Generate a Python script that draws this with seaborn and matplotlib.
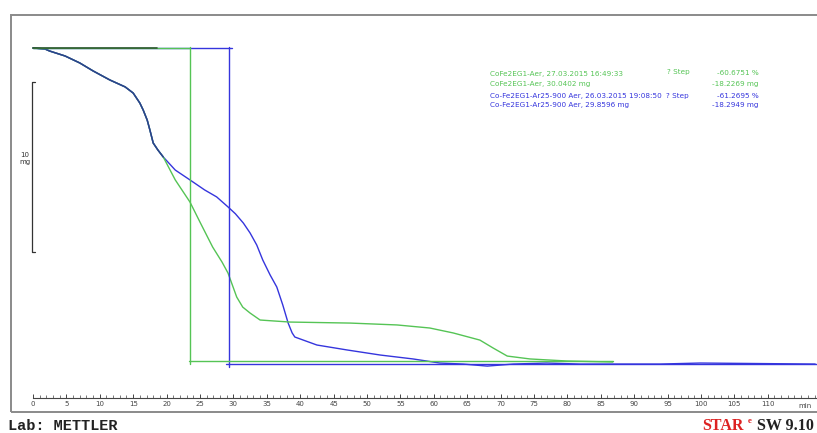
import numpy as np
import pandas as pd
import matplotlib
matplotlib.use("Agg")
import matplotlib.pyplot as plt
from matplotlib.patches import Rectangle
import seaborn as sns

# shared start of both TGA curves (time in min, weight change in mg)
t_common = [0.0, 1.8, 2.5, 4.8, 7.0, 9.0, 11.5, 13.8, 15.0, 16.0, 16.5, 17.1, 17.5, 18.0, 18.7, 19.5]
m_common = [0.0, -0.06, -0.18, -0.47, -0.88, -1.35, -1.88, -2.29, -2.65, -3.24, -3.65, -4.24, -4.82, -5.59, -6.0, -6.41]

# CoFe2EG1-Aer (green)
t_green = [21.3, 23.5, 25.0, 26.9, 28.3, 29.2, 30.5, 31.4, 32.5, 34.0, 36.2, 38.5, 47.5, 54.5,
           59.4, 62.9, 66.9, 68.9, 71.0, 74.4, 79.9, 86.8]
m_green = [-7.76, -9.06, -10.24, -11.71, -12.59, -13.24, -14.65, -15.24, -15.59, -16.0, -16.06, -16.12,
           -16.18, -16.29, -16.47, -16.76, -17.18, -17.65, -18.12, -18.29, -18.41, -18.47]

# Co-Fe2EG1-Ar25-900 Aer (blue)
t_blue = [21.3, 23.5, 25.7, 27.5, 29.2, 30.3, 31.5, 32.5, 33.5, 34.4, 35.5, 36.5, 37.4, 38.2, 38.8, 39.2,
          42.5, 47.0, 52.0, 56.9, 60.9, 64.4, 68.0, 71.9, 76.9, 81.9, 93.9, 99.9, 117.1]
m_blue = [-7.18, -7.76, -8.35, -8.76, -9.35, -9.75, -10.3, -10.88, -11.59, -12.47, -13.35, -14.06, -15.12,
          -16.18, -16.76, -17.0, -17.47, -17.76, -18.06, -18.29, -18.53, -18.59, -18.71, -18.59,
          -18.53, -18.59, -18.59, -18.53, -18.59]

# step evaluation lines: [green, blue]
step_x = [23.5, 29.3]
step_top = [0.0, 0.0]
step_bottom = [-18.41, -18.59]
step_top_end = [23.5, 29.8]
step_bottom_range = [(23.3, 86.8), (28.9, 117.3)]
step_v_range = [(0.06, -18.6), (0.06, -18.76)]

legend_lines = [
    ["CoFe2EG1-Aer, 27.03.2015 16:49:33", "CoFe2EG1-Aer, 30.0402 mg"],
    ["Co-Fe2EG1-Ar25-900 Aer, 26.03.2015 19:08:50", "Co-Fe2EG1-Ar25-900 Aer, 29.8596 mg"],
]
step_pct = ["-60.6751 %", "-61.2695 %"]
step_mg = ["-18.2269 mg", "-18.2949 mg"]

xticks = list(range(0, 115, 5))

green = "#55c455"
blue = "#3535dd"

sns.set_style("white")
plt.rcParams['font.family'] = ['DejaVu Sans']

fig = plt.figure(figsize=(8.17, 4.33), dpi=100)
ax = fig.add_axes([11 / 817, 21 / 433, 806 / 817, 397 / 433])
ax.set_xlim(-3.29, 117.37)
ax.set_ylim(-21.41, 1.94)

green_df = pd.DataFrame({"t": t_common + t_green, "m": m_common + m_green})
blue_df = pd.DataFrame({"t": t_common + t_blue, "m": m_common + m_blue})
sns.lineplot(data=blue_df, x="t", y="m", ax=ax, color=blue, lw=1.0, sort=False)
sns.lineplot(data=green_df, x="t", y="m", ax=ax, color=green, lw=1.0, sort=False)
# the common part looks navy where both curves overlap
sns.lineplot(x=t_common, y=m_common, ax=ax, color="#2a3f8f", lw=1.1, sort=False)

# step lines (blue first, green on top)
for i, col in [(1, blue), (0, green)]:
    ax.plot([0, step_top_end[i]], [step_top[i], step_top[i]], color=col, lw=1.0)
    ax.plot([step_x[i], step_x[i]], list(step_v_range[i]), color=col, lw=1.0)
    ax.plot(list(step_bottom_range[i]), [step_bottom[i], step_bottom[i]], color=col, lw=1.0)
ax.plot([0, 18.5], [0, 0], color="#2f5a2f", lw=1.2)

# legend block
y_rows = [-1.53, -2.12, -2.82, -3.35]
ax.text(68.4, y_rows[0], legend_lines[0][0], color=green, fontsize=5.2, va="center")
ax.text(68.4, y_rows[1], legend_lines[0][1], color=green, fontsize=5.2, va="center")
ax.text(68.4, y_rows[2], legend_lines[1][0], color=blue, fontsize=5.2, va="center")
ax.text(68.4, y_rows[3], legend_lines[1][1], color=blue, fontsize=5.2, va="center")
ax.text(94.9, y_rows[0] + 0.1, "? Step", color=green, fontsize=5.2, va="center")
ax.text(94.8, y_rows[2], "? Step", color=blue, fontsize=5.2, va="center")
ax.text(108.6, y_rows[0] + 0.05, step_pct[0], color=green, fontsize=5.2, va="center", ha="right")
ax.text(108.6, y_rows[1], step_mg[0], color=green, fontsize=5.2, va="center", ha="right")
ax.text(108.6, y_rows[2], step_pct[1], color=blue, fontsize=5.2, va="center", ha="right")
ax.text(108.6, y_rows[3], step_mg[1], color=blue, fontsize=5.2, va="center", ha="right")

# 10 mg scale bar
ax.plot([0.3, -0.15, -0.15, 0.3], [-2.0, -2.0, -12.0, -12.0], color="#333333", lw=0.9)
ax.text(-1.2, -6.5, "10\nmg", fontsize=5, color="#333333", ha="center", va="center", linespacing=1.3)

# x ruler
for s in ["left", "right", "top"]:
    ax.spines[s].set_visible(False)
ax.spines["bottom"].set_position(("data", -20.59))
ax.spines["bottom"].set_bounds(0, 117.3)
ax.spines["bottom"].set_color("#444444")
ax.spines["bottom"].set_linewidth(0.8)
ax.set_xticks(xticks)
ax.set_xticks(np.arange(0, 118, 1), minor=True)
ax.tick_params(axis="x", which="major", direction="in", length=3, width=0.7, colors="#444444",
               labelsize=5, pad=2, bottom=True)
ax.tick_params(axis="x", which="minor", direction="in", length=2, width=0.5, colors="#444444", bottom=True)
ax.set_yticks([])
ax.set_xlabel("")
ax.set_ylabel("")
ax.text(115.5, -21.05, "min", fontsize=5, color="#444444", ha="center", va="center")

# outer frame
fig.add_artist(Rectangle((11 / 817, 21 / 433), 810 / 817, 397 / 433, transform=fig.transFigure,
                         fill=False, edgecolor="#8a8a8a", lw=1.4))

fig.text(8 / 817, 1 - 426 / 433, "Lab: METTLER", fontsize=11, va="center", ha="left",
         family="Liberation Mono", weight="bold", color="#222222")
fig.text(702 / 817, 1 - 426 / 433, "STAR", fontsize=11.5, va="center", ha="left",
         family="Liberation Serif", weight="bold", color="#dd2222")
fig.text(748 / 817, 1 - 421 / 433, "e", fontsize=6.5, va="center", ha="left",
         family="Liberation Serif", weight="bold", color="#dd2222")
fig.text(814 / 817, 1 - 426 / 433, "SW 9.10", fontsize=11.5, va="center", ha="right",
         family="Liberation Serif", weight="bold", color="#222222")

fig.savefig("out.png", dpi=100)
